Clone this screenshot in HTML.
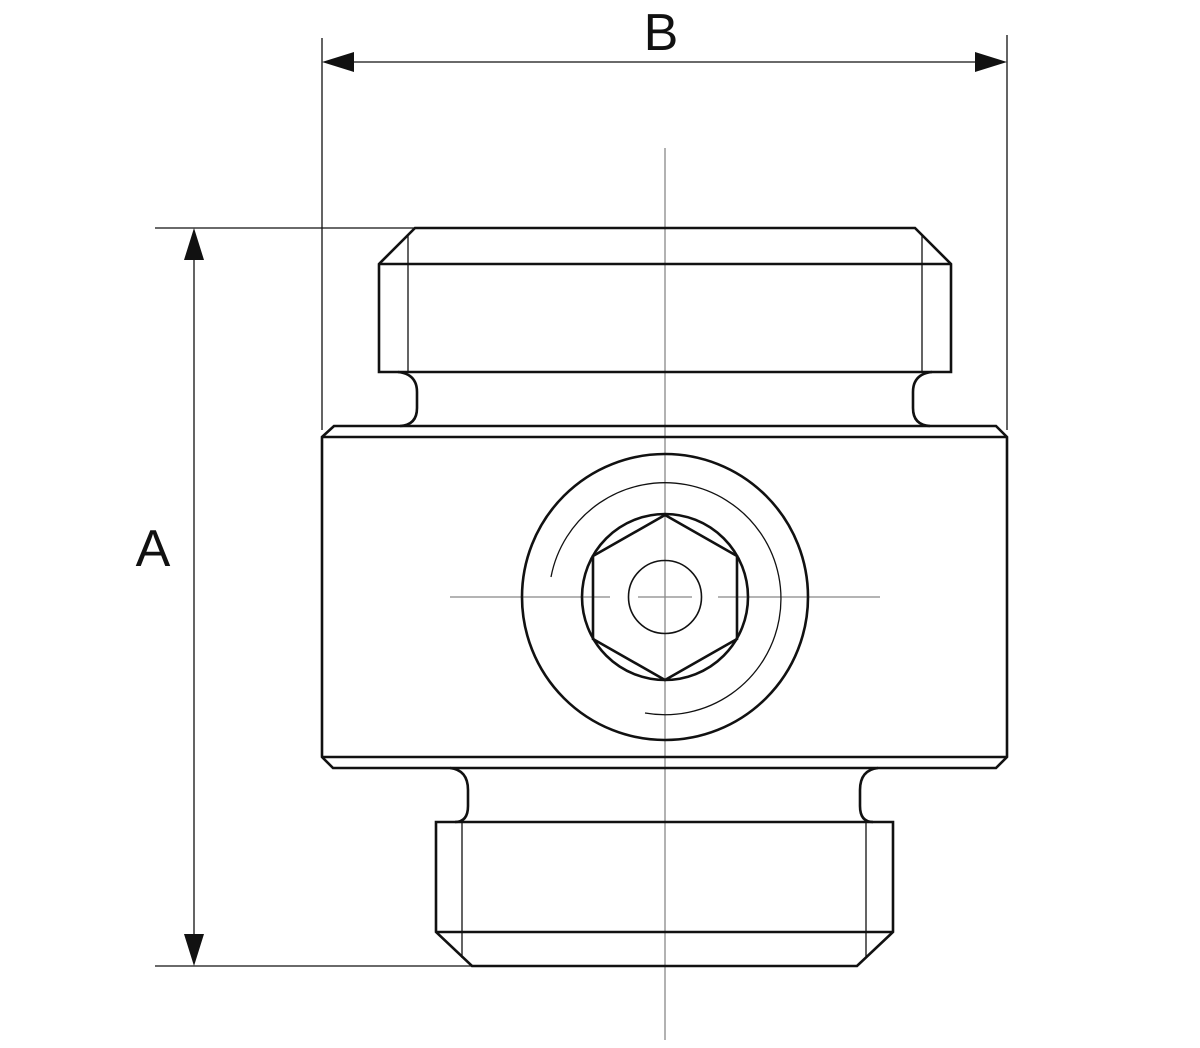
<!DOCTYPE html>
<html><head><style>html,body{margin:0;padding:0;background:#fff}svg{display:block}</style></head>
<body>
<svg width="1200" height="1048" viewBox="0 0 1200 1048" xmlns="http://www.w3.org/2000/svg">
<g stroke="#888" stroke-width="1.3" fill="none">
<line x1="665" y1="148" x2="665" y2="1040"/>
<line x1="450" y1="597" x2="610" y2="597"/>
<line x1="638" y1="597" x2="692" y2="597"/>
<line x1="718" y1="597" x2="880" y2="597"/>
</g>
<g stroke="#111" stroke-width="1.3" fill="none">
<line x1="322" y1="38" x2="322" y2="430"/>
<line x1="1007" y1="35" x2="1007" y2="430"/>
<line x1="155" y1="228" x2="415" y2="228"/>
<line x1="155" y1="966" x2="472" y2="966"/>
<line x1="350" y1="62" x2="980" y2="62"/>
<line x1="194" y1="255" x2="194" y2="940"/>
<line x1="408" y1="236" x2="408" y2="372"/>
<line x1="922" y1="236" x2="922" y2="372"/>
<line x1="462" y1="822" x2="462" y2="958"/>
<line x1="866" y1="822" x2="866" y2="958"/>
<path d="M551 577 A116 116 0 1 1 645 713"/>
</g>
<g fill="#111">
<polygon points="322,62 354,52 354,72"/>
<polygon points="1007,62 975,52 975,72"/>
<polygon points="194,228 184,260 204,260"/>
<polygon points="194,966 184,934 204,934"/>
</g>
<g stroke="#111" stroke-width="2.6" fill="none" stroke-linejoin="miter">
<path d="M415 228 H915 L951 264 V372 H379 V264 Z"/>
<line x1="379" y1="264" x2="951" y2="264"/>
<path d="M398 372 Q417 374 417 392 V408 Q417 425 400 426"/>
<path d="M932 372 Q913 374 913 392 V408 Q913 425 930 426"/>
<path d="M334 426 H996 L1007 437 V757 L996 768 H333 L322 757 V437 Z"/>
<line x1="322" y1="437" x2="1007" y2="437"/>
<line x1="322" y1="757" x2="1007" y2="757"/>
<path d="M450 768 Q468 770 468 790 V806 Q468 822 455 822"/>
<path d="M878 768 Q860 770 860 790 V806 Q860 822 873 822"/>
<path d="M436 822 H893 V932 L857 966 H472 L436 932 Z"/>
<line x1="436" y1="932" x2="893" y2="932"/>
<circle cx="665" cy="597" r="143"/>
<circle cx="665" cy="597" r="83"/>
<polygon points="665,515 737,556 737,639 665,680 593,639 593,556"/>
</g>
<circle cx="665" cy="597" r="36.5" stroke="#111" stroke-width="1.6" fill="none"/>
<g font-family="Liberation Sans, sans-serif" font-size="52" fill="#111" text-anchor="middle">
<text x="661" y="50">B</text>
<text x="153" y="566">A</text>
</g>
</svg>
</body></html>
